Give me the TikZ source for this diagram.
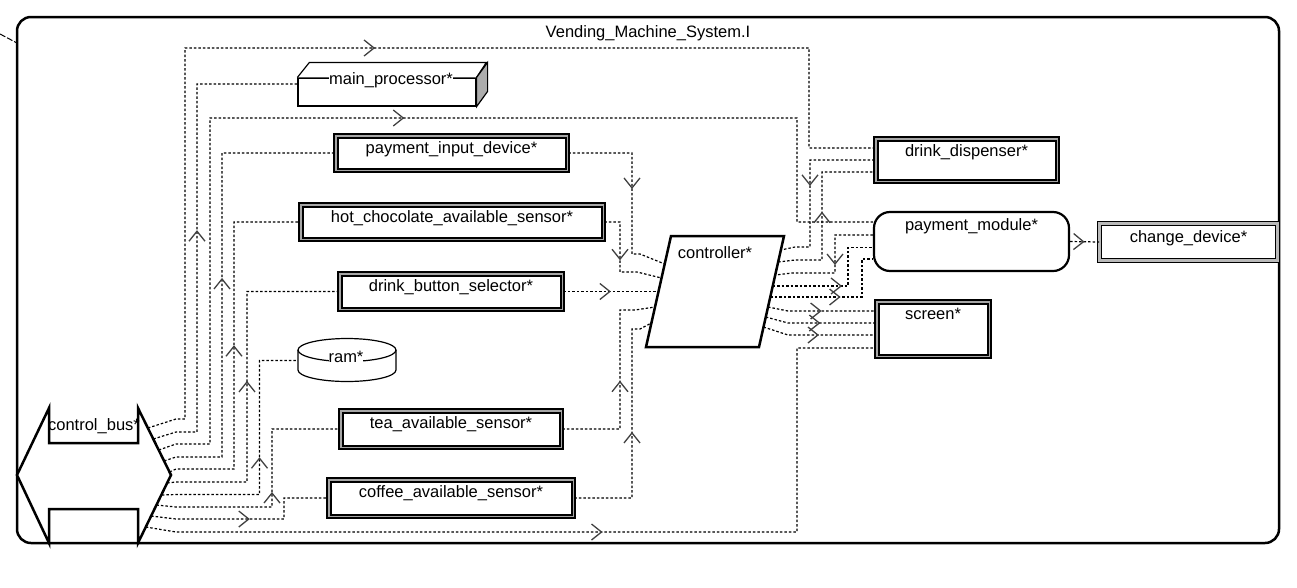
\documentclass[tikz,border=0pt]{standalone}
\usepackage{fontspec}
\setmainfont{Liberation Sans}
\usetikzlibrary{arrows.meta,decorations.markings}

\tikzset{
    lbl/.style={font=\fontsize{16.5}{19}\selectfont, inner sep=0pt},
    dev/.style={draw=black, line width=2pt, double=gray!70, double distance=1.6pt, fill=white, inner sep=0pt},
    bev/.style={draw=black, line width=1pt, double=gray!55, double distance=3pt, fill=white, inner sep=0pt},
    top/.style={label={[lbl,anchor=north,yshift=-7pt]north:#1}},
    conn/.style={dash pattern=on 2.5pt off 2pt, line width=1.2pt, postaction={decorate},
        decoration={markings, mark=at position .5 with {\arrow{Straight Barb[length=10pt,width=16pt,line width=1.3pt,color=black!75]}}}},
}

\begin{document}
\begin{tikzpicture}[x=1pt,y=-1pt]
    \useasboundingbox (0,0) rectangle (1297,587);

    % system frame
    \draw[line width=2.5pt, rounded corners=14pt] (17,17) rectangle (1279,543);
    \node[lbl] (title) at (648,33) {Vending\_Machine\_System.I};
    \coordinate (ext) at (0,34);
    \coordinate (extE) at (17,43);
    \draw[dash pattern=on 6pt off 2pt, line width=1pt] (ext) -- (extE);

    % control bus
    \draw[line width=2.5pt, fill=white] (17,475) -- (49,408) -- (49,443) -- (138,443) -- (138,408)
        -- (171,475) -- (138,543) -- (138,509) -- (49,509) -- (49,543) -- cycle;
    \node[lbl] (cb) at (94,426) {control\_bus*};
    \coordinate (b1) at (147.9,428);
    \coordinate (b2) at (153.3,439);
    \coordinate (b3) at (158.7,450);
    \coordinate (b4) at (164.1,461);
    \coordinate (b5) at (169.5,472);
    \coordinate (b6) at (167.1,483);
    \coordinate (b7) at (161.8,495);
    \coordinate (b8) at (156.4,505);
    \coordinate (b9) at (151.1,516);
    \coordinate (b10) at (145.8,527);

    % processor
    \node[draw, line width=1.2pt, fill=white, minimum width=178, minimum height=28, inner sep=0pt] (mp) at (387,92) {};
    \draw[line width=1.2pt, fill=white] (mp.north west) -- ++(12,-15) -- ++(177,0) -- (mp.north east);
    \draw[line width=1.2pt, fill=gray!65] (mp.north east) -- ++(11,-15) -- ++(0,29) -- (mp.south east) -- cycle;
    \node[lbl, fill=white] (mpT) at (391,80) {main\_processor*};

    % memory
    \node[minimum width=98, minimum height=42, inner sep=0pt] (ram) at (347,360) {};
    \draw[line width=1.2pt, fill=white] (298,350) -- (298,370)
        arc[start angle=180, end angle=360, x radius=49pt, y radius=11.5pt] -- (396,350);
    \draw[line width=1.2pt] (347,350) ellipse[x radius=49pt, y radius=11.5pt];
    \node[lbl, fill=white] (ramT) at (346,357) {ram*};

    % devices
    \node[dev, minimum width=231.6, minimum height=34.6, top=payment\_input\_device*] (pid) at (451.5,153) {};
    \node[dev, minimum width=302.6, minimum height=34.6, top=hot\_chocolate\_available\_sensor*] (hcs) at (452,222) {};
    \node[dev, minimum width=222.6, minimum height=35.6, top=drink\_button\_selector*] (dbs) at (451,291.5) {};
    \node[dev, minimum width=220.6, minimum height=36.6, top=tea\_available\_sensor*] (tea) at (451,429) {};
    \node[dev, minimum width=244.6, minimum height=36.6, top=coffee\_available\_sensor*] (cas) at (451,498) {};
    \node[dev, minimum width=181.6, minimum height=42.6, top=drink\_dispenser*] (dd) at (966.5,160) {};
    \node[dev, minimum width=112.6, minimum height=54.6, top=screen*] (scr) at (933,329) {};
    \node[draw, line width=2.2pt, rounded corners=16pt, fill=white, minimum width=195, minimum height=59,
        inner sep=0pt, top=payment\_module*] (pm) at (971.5,241.5) {};
    \node[bev, minimum width=178, minimum height=37, top=change\_device*] (chg) at (1188.5,242) {};

    % controller
    \draw[line width=2.5pt, fill=white] (646,347) -- (671,236) -- (784,236) -- (759,347) -- cycle;
    \node[lbl] (ctrl) at (715,253) {controller*};
    \coordinate (cl1) at (664.7,264);
    \coordinate (cl2) at (661.5,278);
    \coordinate (cl3) at (658.5,291.5);
    \coordinate (cl4) at (655,307);
    \coordinate (cl5) at (651.4,323);
    \coordinate (cr1) at (780.8,250);
    \coordinate (cr2) at (778.1,262);
    \coordinate (cr3) at (775.2,275);
    \coordinate (cr4) at (772.7,286);
    \coordinate (cr5) at (770.3,297);
    \coordinate (cr6) at (768,307);
    \coordinate (cr7) at (765.8,317);
    \coordinate (cr8) at (763.5,327);

    % bus connections
    \draw[conn] (b1) -- (176,419) -| (185,48) -| (809,148) -- ([yshift=12pt]dd.west);
    \draw[conn] (b2) -- (176,432) -| (197,84) -- ([yshift=8pt]mp.west);
    \draw[conn] (b3) -- (176,444) -| (210,118) -| (797,222) -- ([yshift=19.5pt]pm.west);
    \draw[conn] (b4) -- (176,457) -- (222,457) |- (pid.west);
    \draw[conn] (b5) -- (176,469) -- (234,469) |- (hcs.west);
    \draw[conn] (b6) -- (176,482) -- (247,482) |- (dbs.west);
    \draw[conn] (b7) -- (176,494.5) -- (259.5,494.5) |- ([yshift=-0.5pt]ram.west);
    \draw[conn] (b8) -- (176,507) -- (272,507) |- (tea.west);
    \draw[conn] (b9) -- (176,519) -- (284,519) |- (cas.west);
    \draw[conn] (b10) -- (176,532) -- (797,532) |- ([yshift=-19pt]scr.west);

    % into the controller
    \draw[conn] (pid.east) -| (632,254) -- (640,254) -- (cl1);
    \draw[conn] (hcs.east) -| (620,272) -- (637,272) -- (cl2);
    \draw[conn] (dbs.east) -- (cl3);
    \draw[conn] (tea.east) -| (620,310) -- (635,310) -- (cl4);
    \draw[conn] (cas.east) -| (632,329) -- (640,329) -- (cl5);

    % out of the controller
    \draw[conn] (dd.west) -| (810,247) -- (795,247) -- (cr1);
    \draw[conn] (cr2) -- (795,260) -- (822,260) |- ([yshift=-12pt]dd.west);
    \draw[conn] ([yshift=6.5pt]pm.west) -| (835,273) -- (792,273) -- (cr3);
    \draw[conn] (cr4) -- (790,286) -- (848,286) |- ([yshift=-6pt]pm.west);
    \draw[conn] (cr5) -- (790,297) -- (862,297) |- ([yshift=-17.5pt]pm.west);
    \draw[conn] (cr6) -- (788,311) -- ([yshift=18pt]scr.west);
    \draw[conn] (cr7) -- (788,323) -- ([yshift=6pt]scr.west);
    \draw[conn] (cr8) -- (788,335) -- ([yshift=-6pt]scr.west);
    \draw[conn] (pm.east) -- (chg.west);
\end{tikzpicture}
\end{document}
